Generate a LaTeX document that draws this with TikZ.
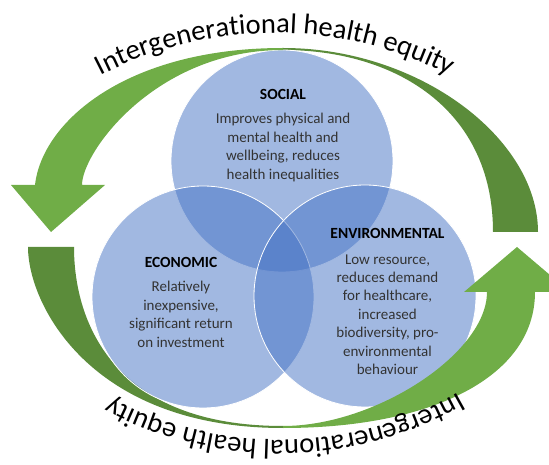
\documentclass[tikz,border=0pt]{standalone}
\usepackage{fontspec}
\setmainfont{Carlito}
\usepackage{tikz}
\usetikzlibrary{positioning,decorations.text}
\definecolor{vennblue}{HTML}{4472C4}
\definecolor{arrowlight}{HTML}{70AD47}
\definecolor{arrowdark}{HTML}{5B8C3A}
\definecolor{textgray}{HTML}{333333}
\newcommand{\curvefont}{\fontsize{28.5}{33}\selectfont}

\begin{document}
\begin{tikzpicture}[x=1pt, y=1pt,
  venn/.style={circle, minimum size=222pt, inner sep=0pt, fill=vennblue, fill opacity=0.5, draw=white, line width=0.8pt},
  headtext/.style={font=\fontsize{15.5}{18}\selectfont\bfseries, inner sep=0pt},
  bodytext/.style={font=\fontsize{15}{18.4}\selectfont, text=textgray, align=center, inner sep=0pt},
  backarrow/.style={fill=arrowdark},
  frontarrow/.style={fill=arrowlight},
  arch/.style={decorate, decoration={text along path, text align=center, text={|\curvefont|Intergenerational health equity}}}]
  \useasboundingbox (0,0) rectangle (549,464);
  \clip (0,0) rectangle (549,464);

  % back arrows
  \fill[backarrow] (283,416) .. controls (420,416) and (538,325) .. (538,232)
    -- (493,232) .. controls (493,355) and (395,414) .. (283,414) -- cycle;
  \fill[backarrow] (28,217) .. controls (28,160) and (90,36) .. (283,36)
    -- (283,38) .. controls (114,38) and (74,141) .. (74,217) -- cycle;

  % circles
  \node[venn] (social) at (282,303) {};
  \node[venn] (economic) at (203,167) {};
  \node[venn] (environmental) at (365,168) {};

  % front arrows
  \fill[frontarrow] (283,416) .. controls (126,416) and (42,342) .. (35,279)
    -- (11,279) -- (51,232) -- (105,279) -- (82,279)
    .. controls (82,312) and (156,414) .. (283,414) -- cycle;
  \fill[frontarrow] (283,36) .. controls (432,36) and (535,87) .. (535,172)
    -- (570,172) -- (517,217) -- (464,172) -- (487,172)
    .. controls (487,111) and (376,38) .. (283,38) -- cycle;

  % texts
  \node[headtext] (socialhead) at ([shift={(1,67)}]social.center) {SOCIAL};
  \node[bodytext, below=14pt of socialhead] (socialtext)
    {Improves physical and\\mental health and\\wellbeing, reduces\\health inequalities};
  \node[headtext] (economichead) at ([shift={(-22,35)}]economic.center) {ECONOMIC};
  \node[bodytext, below=14pt of economichead] (economictext)
    {Relatively\\inexpensive,\\significant return\\on investment};
  \node[headtext] (environmentalhead) at ([shift={(22.5,63)}]environmental.center) {ENVIRONMENTAL};
  \node[bodytext, below=16pt of environmentalhead] (environmentaltext)
    {Low resource,\\reduces demand\\for healthcare,\\increased\\biodiversity, pro-\\environmental\\behaviour};

  % curved labels
  \coordinate (topc) at (275,51);
  \coordinate (botc) at (280,384);
  \path[arch] ([shift={(117.5:380pt)}]topc) arc[start angle=117.5, end angle=62.5, radius=380pt];
  \path[arch] ([shift={(-60.4:360pt)}]botc) arc[start angle=-60.4, end angle=-118, radius=360pt];
\end{tikzpicture}
\end{document}
